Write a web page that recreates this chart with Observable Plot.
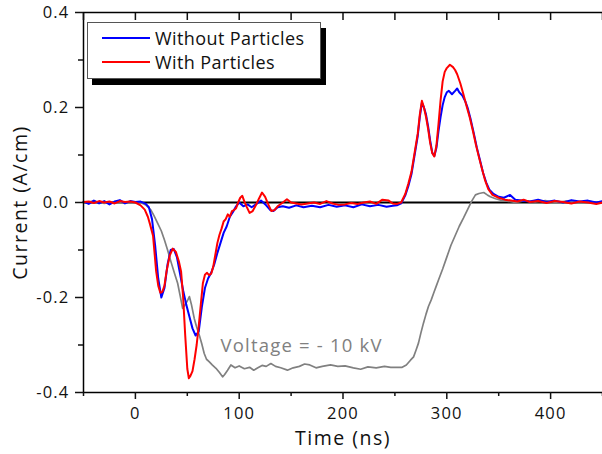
<!DOCTYPE html>
<html>
<head>
<meta charset="utf-8">
<script src="https://cdn.jsdelivr.net/npm/d3@7"></script>
<script src="https://cdn.jsdelivr.net/npm/@observablehq/plot@0.6"></script>
<style>
  body { margin: 0; background: #fff; }
  #wrap { position: relative; width: 602px; height: 454px; font-family: "Open Sans", sans-serif; }
  #legend { position: absolute; left: 87px; top: 22px; width: 234px; height: 57px; background: #fff;
    border: 1px solid #555; box-shadow: 5px 6px 0 #000; box-sizing: border-box; }
  .row { position: absolute; left: 0; height: 20px; display: flex; align-items: center; font-size: 18px; letter-spacing: 0.4px; color: #111; white-space: nowrap; }
  .row svg { margin-left: 14px; margin-right: 5px; }
</style>
</head>
<body>
<div id="wrap"></div>
<script>
// ---- data ----
const blueT = [-50,-45,-40,-35,-30,-25,-20,-15,-10,-5,0,5,10,13,16,19,22,25,28,31,34,37,40,43,46,49,52,55,58,61,64,67,70,73,76,79,82,85,88,91,94,97,100,104,108,112,116,121,126,130,133,137,142,148,155,162,170,178,186,194,202,210,218,226,234,242,248,252,256,260,263,266,269,272,274,276,278,280,282,284,286,288,290,292,294,296,298,300,302,305,308,310,312,315,318,320,323,326,329,332,335,338,341,345,350,355,361,366,372,380,388,396,404,412,420,428,436,444,450];
const blueV = [0.002,-0.003,0.004,-0.002,0.003,-0.004,0.002,0.005,-0.002,0.003,0.001,0.002,-0.003,-0.01,-0.035,-0.09,-0.16,-0.2,-0.18,-0.13,-0.1,-0.098,-0.115,-0.15,-0.185,-0.215,-0.24,-0.265,-0.28,-0.272,-0.22,-0.18,-0.16,-0.148,-0.13,-0.106,-0.085,-0.064,-0.05,-0.03,-0.02,-0.008,0.0,-0.008,-0.004,-0.01,-0.004,0.004,-0.006,-0.016,-0.018,-0.01,-0.008,-0.011,-0.006,-0.01,-0.007,-0.01,-0.005,-0.009,-0.006,-0.01,-0.004,-0.008,-0.005,-0.009,-0.007,-0.006,-0.002,0.015,0.035,0.06,0.1,0.14,0.18,0.21,0.2,0.185,0.16,0.13,0.105,0.098,0.115,0.15,0.18,0.205,0.222,0.232,0.235,0.228,0.235,0.24,0.232,0.225,0.212,0.2,0.175,0.146,0.115,0.089,0.062,0.042,0.027,0.018,0.012,0.01,0.016,0.006,0.004,0.002,0.006,0.001,0.004,0.0,0.005,0.002,0.004,0.0,0.003];

const redT = [-50,-45,-40,-35,-30,-25,-20,-15,-10,-5,0,5,9,12,14,17,20,22,24,26,28,30,33,36,39,42,44,46,48,50,51.5,53,55,57,59,61,63,65,67,69,71,73,75,77,79,81,83,85,87,89,91,93,95,97,99,101,103,105,107,110,113,116,119,122,125,128,131,134,137,142,146,150,155,160,166,172,178,184,190,196,202,208,214,220,226,232,238,244,248,252,256,260,263,266,269,272,274,276,278,280,282,284,286,288,290,292,294,296,298,300,303,306,308,310,313,316,319,322,325,328,331,334,337,340,344,350,356,362,368,374,380,388,396,404,412,420,428,436,444,450];
const redV = [0.001,0.002,-0.001,0.003,0.0,0.002,-0.002,0.003,0.001,0.002,0.0,-0.006,-0.015,-0.03,-0.045,-0.07,-0.145,-0.175,-0.19,-0.188,-0.175,-0.145,-0.112,-0.097,-0.104,-0.125,-0.145,-0.2,-0.28,-0.35,-0.37,-0.365,-0.355,-0.33,-0.3,-0.26,-0.215,-0.17,-0.152,-0.148,-0.153,-0.15,-0.135,-0.11,-0.085,-0.068,-0.055,-0.04,-0.035,-0.025,-0.03,-0.018,-0.016,-0.012,0.0,0.01,0.014,0.002,-0.008,-0.022,-0.018,-0.006,0.008,0.021,0.012,-0.004,-0.018,-0.016,-0.008,0.0,0.007,0.0,-0.002,-0.004,-0.002,0.0,-0.003,0.003,-0.002,-0.005,-0.004,-0.001,-0.003,0.0,0.002,-0.003,0.006,0.004,-0.002,-0.003,0.0,0.018,0.04,0.065,0.105,0.145,0.185,0.214,0.2,0.18,0.155,0.125,0.104,0.097,0.12,0.165,0.215,0.255,0.275,0.283,0.29,0.285,0.279,0.27,0.251,0.228,0.203,0.18,0.152,0.122,0.095,0.07,0.046,0.028,0.016,0.01,0.006,0.004,0.002,0.006,0.001,0.003,-0.001,0.003,0.001,-0.002,0.002,0.0,-0.003,0.0];

const grayT = [-50,-40,-30,-20,-10,0,5,10,15,18,21.5,25,28,31,34.3,37.5,40.7,43,45.5,47,48.8,50.5,52,54,56.7,59,61.5,64,66.3,68.5,71,74,77.6,81,84,86,88.8,92,96,100,105,110,114,118,122,126,130.5,135,140,146.5,152,158,163,168,174,180,188,195,202,210,217,224,232,240,246,252,257,261,265,268,270.5,272.7,275,277.5,280,282.3,285,287.3,290,292,296,300,304,308,312,316,320,324,327.6,331,335.6,339,342,347,352,358,366,375,385,395,405,415,425,435,445,450];
const grayV = [0.0,0.003,-0.002,0.002,0.0,0.001,0.0,-0.005,-0.016,-0.028,-0.044,-0.06,-0.079,-0.1,-0.125,-0.148,-0.17,-0.195,-0.223,-0.218,-0.212,-0.205,-0.198,-0.215,-0.244,-0.262,-0.279,-0.298,-0.318,-0.33,-0.335,-0.342,-0.349,-0.358,-0.367,-0.362,-0.353,-0.342,-0.348,-0.344,-0.35,-0.347,-0.353,-0.348,-0.343,-0.345,-0.339,-0.345,-0.348,-0.353,-0.348,-0.345,-0.34,-0.342,-0.348,-0.345,-0.342,-0.345,-0.344,-0.348,-0.351,-0.346,-0.348,-0.345,-0.347,-0.347,-0.347,-0.342,-0.332,-0.325,-0.31,-0.296,-0.275,-0.254,-0.235,-0.219,-0.205,-0.191,-0.175,-0.163,-0.14,-0.115,-0.09,-0.07,-0.05,-0.033,-0.015,0.003,0.016,0.019,0.021,0.016,0.012,0.008,0.005,0.003,0.0,0.004,0.001,0.004,0.0,0.003,-0.001,0.003,0.0,0.002];

const seriesNames = ["Without Particles", "With Particles"];
const seriesColors = ["#0000ff", "#ff0000"];
const voltageLabel = "Voltage = - 10 kV";
const xMajor = [0, 100, 200, 300, 400];
const xMinor = [-50, 50, 150, 250, 350, 450];
const xTop = [-50, 0, 50, 100, 150, 200, 250, 300, 350, 400, 450];
const yMajor = [-0.4, -0.2, 0.0, 0.2, 0.4];
const yMinor = [-0.3, -0.1, 0.1, 0.3];

const toRows = (T, V) => T.map((t, i) => ({t, v: V[i]}));
const blue = toRows(blueT, blueV);
const red = toRows(redT, redV);
const gray = toRows(grayT, grayV);

const font = '"Open Sans", sans-serif';
const none = () => "";
const chart = Plot.plot({
  width: 602, height: 454,
  marginLeft: 83, marginTop: 12, marginBottom: 62, marginRight: 0,
  style: {fontFamily: font, fontSize: "16.5px", color: "#111", background: "#fff", letterSpacing: "1.2px"},
  x: {domain: [-50, 450]},
  y: {domain: [-0.4, 0.4]},
  marks: [
    Plot.ruleY([0], {stroke: "#000", strokeWidth: 2}),
    Plot.line(gray, {x: "t", y: "v", stroke: "#808080", strokeWidth: 1.7}),
    Plot.line(blue, {x: "t", y: "v", stroke: seriesColors[0], strokeWidth: 2}),
    Plot.line(red, {x: "t", y: "v", stroke: seriesColors[1], strokeWidth: 2}),
    Plot.text([voltageLabel], {x: 82, y: -0.303, text: d => d, textAnchor: "start", fill: "#808080", fontSize: 18.5, style: "letter-spacing:0.8px"}),
    // frame lines
    Plot.ruleY([-0.4, 0.4], {stroke: "#000", strokeWidth: 1.5}),
    Plot.ruleX([-50], {stroke: "#000", strokeWidth: 1.5}),
    // axes
    Plot.axisX(xMajor, {anchor: "bottom", tickSize: 7, tickPadding: 8, tickFormat: d => String(d), fontSize: 16.5,
      label: "Time (ns)", labelAnchor: "center", labelArrow: "none", labelOffset: 52, strokeWidth: 1.5}),
    Plot.axisX(xMinor, {anchor: "bottom", tickSize: 4, tickFormat: none, label: null, strokeWidth: 1.5}),
    Plot.axisX(xTop, {anchor: "top", tickSize: 7, dy: 7, tickFormat: none, label: null, strokeWidth: 1.5}),
    Plot.axisY(yMajor, {anchor: "left", tickSize: 8, tickPadding: 6, tickFormat: d => d.toFixed(1), fontSize: 16.5,
      label: "Current (A/cm)", labelAnchor: "center", labelArrow: "none", labelOffset: 70, strokeWidth: 1.5}),
    Plot.axisY(yMinor, {anchor: "left", tickSize: 5, tickFormat: none, label: null, strokeWidth: 1.5})
  ]
});
chart.querySelectorAll("[aria-label='x-axis label'] text, [aria-label='y-axis label'] text").forEach(t => { t.setAttribute("font-size", "19.5"); t.style.letterSpacing = "1.5px"; });

const wrap = document.getElementById("wrap");
wrap.appendChild(chart);
chart.style.position = "absolute"; chart.style.left = "0"; chart.style.top = "0";

const legend = document.createElement("div");
legend.id = "legend";
seriesNames.forEach((name, i) => {
  const row = document.createElement("div");
  row.className = "row";
  row.style.top = (5 + i * 24) + "px";
  row.innerHTML = `<svg width="48" height="4"><line x1="0" y1="2" x2="48" y2="2" stroke="${seriesColors[i]}" stroke-width="2"/></svg><span>${name}</span>`;
  legend.appendChild(row);
});
wrap.appendChild(legend);
</script>
</body>
</html>
